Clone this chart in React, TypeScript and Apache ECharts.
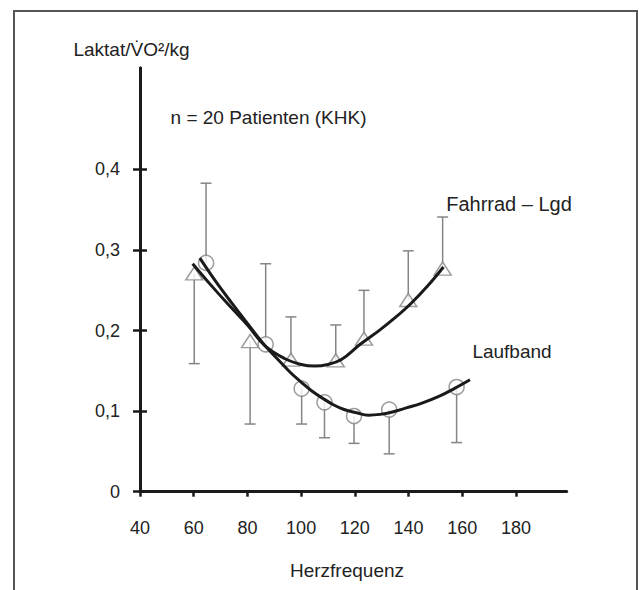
import React, { useEffect, useRef } from "react";
import * as echarts from "echarts";

// Tick values
const xTicks = [40, 60, 80, 100, 120, 140, 160, 180];
const yTicks = [0, 0.1, 0.2, 0.3, 0.4];

// Fahrrad – Lgd (triangles): x, mean, error-bar end
const fahrradX = [60.2, 81.0, 96.2, 112.9, 123.4, 139.9, 152.7];
const fahrradY = [0.271, 0.187, 0.164, 0.163, 0.190, 0.238, 0.277];
const fahrradErr = [0.159, 0.084, 0.217, 0.207, 0.250, 0.299, 0.341];

// Laufband (circles): x, mean, error-bar end
const laufbandX = [64.6, 86.8, 100.2, 108.7, 119.7, 132.8, 157.9];
const laufbandY = [0.284, 0.183, 0.128, 0.111, 0.094, 0.102, 0.130];
const laufbandErr = [0.383, 0.283, 0.084, 0.067, 0.060, 0.047, 0.061];

// Fitted curves
const fahrradCurveX = [59.6, 66, 73, 80, 86.6, 94, 100, 105, 110, 115, 122, 129, 135, 141, 147, 153];
const fahrradCurveY = [0.283, 0.258, 0.232, 0.207, 0.181, 0.165, 0.158, 0.156, 0.158, 0.164, 0.183, 0.200, 0.216, 0.234, 0.255, 0.279];
const laufbandCurveX = [62.3, 68, 74, 80, 86.6, 92, 96, 100, 104, 108, 112, 116, 120.7, 125, 129.4, 134, 139.2, 145, 151.7, 157, 162.9];
const laufbandCurveY = [0.290, 0.262, 0.235, 0.209, 0.181, 0.162, 0.148, 0.136, 0.125, 0.116, 0.108, 0.102, 0.098, 0.095, 0.096, 0.099, 0.104, 0.110, 0.119, 0.128, 0.139];

const FONT = "'Liberation Sans', Arial, sans-serif";
const TEXT = "#222222";
const GRAY = "#858585";
const AXIS = "#1a1a1a";

function zip(a: number[], b: number[], c?: number[]) {
  return a.map((v, i) => (c ? [v, b[i], c[i]] : [v, b[i]]));
}

export default function App() {
  const ref = useRef<HTMLDivElement>(null);
  useEffect(() => {
    if (!ref.current) return;
    const chart = echarts.init(ref.current, null, { renderer: "svg" });

    const errRender = (params: any, api: any) => {
      const x = api.value(0);
      const y = api.value(1);
      const e = api.value(2);
      const p1 = api.coord([x, y]);
      const p2 = api.coord([x, e]);
      const style = { stroke: GRAY, lineWidth: 1.5 };
      return {
        type: "group",
        children: [
          { type: "line", shape: { x1: p1[0], y1: p1[1], x2: p2[0], y2: p2[1] }, style },
          { type: "line", shape: { x1: p2[0] - 5.5, y1: p2[1], x2: p2[0] + 5.5, y2: p2[1] }, style },
        ],
      };
    };

    const yFmt = (v: number) => (v === 0 ? "0" : v.toFixed(1).replace(".", ","));

    chart.setOption({
      animation: false,
      backgroundColor: "#ffffff",
      grid: { left: 140, top: 68, width: 426.7, height: 423.7 },
      xAxis: {
        type: "value",
        min: 40,
        max: 198.9,
        axisLine: { show: true, lineStyle: { color: AXIS, width: 3 } },
        axisTick: { show: true, customValues: xTicks, length: 5, lineStyle: { color: AXIS, width: 2.5 } },
        axisLabel: {
          customValues: xTicks,
          margin: 27,
          fontSize: 18,
          fontFamily: FONT,
          color: TEXT,
        },
        splitLine: { show: false },
      },
      yAxis: [
        {
          type: "value",
          min: 0,
          max: 0.526,
          axisLine: { show: true, lineStyle: { color: AXIS, width: 3 } },
          axisTick: { show: true, customValues: yTicks, length: 7, lineStyle: { color: AXIS, width: 2.5 } },
          axisLabel: {
            customValues: yTicks,
            margin: 20,
            fontSize: 18,
            fontFamily: FONT,
            color: TEXT,
            formatter: yFmt,
          },
          splitLine: { show: false },
        },
        {
          type: "value",
          min: 0,
          max: 0.526,
          position: "left",
          axisLine: { show: true, lineStyle: { color: AXIS, width: 3 } },
          axisTick: { show: true, inside: true, customValues: yTicks, length: 7, lineStyle: { color: AXIS, width: 2.5 } },
          axisLabel: { show: false },
          splitLine: { show: false },
        },
      ],
      series: [
        {
          type: "custom",
          renderItem: errRender,
          data: zip(fahrradX, fahrradY, fahrradErr),
          encode: { x: 0, y: 1 },
          z: 1,
        },
        {
          type: "custom",
          renderItem: errRender,
          data: zip(laufbandX, laufbandY, laufbandErr),
          encode: { x: 0, y: 1 },
          z: 1,
        },
        {
          type: "scatter",
          symbol: "triangle",
          symbolSize: [17, 13],
          data: zip(fahrradX, fahrradY),
          itemStyle: { color: "#ffffff", borderColor: GRAY, borderWidth: 1.5 },
          z: 2,
        },
        {
          type: "scatter",
          symbol: "circle",
          symbolSize: 15,
          data: zip(laufbandX, laufbandY),
          itemStyle: { color: "#ffffff", borderColor: GRAY, borderWidth: 1.5 },
          z: 2,
        },
        {
          type: "line",
          data: zip(fahrradCurveX, fahrradCurveY),
          smooth: 0.4,
          showSymbol: false,
          lineStyle: { color: AXIS, width: 3 },
          z: 3,
        },
        {
          type: "line",
          data: zip(laufbandCurveX, laufbandCurveY),
          smooth: 0.4,
          showSymbol: false,
          lineStyle: { color: AXIS, width: 3 },
          z: 3,
        },
      ],
      graphic: [
        {
          type: "rect",
          shape: { x: 14, y: 11, width: 623, height: 620 },
          style: { fill: "none", stroke: "#555555", lineWidth: 2 },
          silent: true,
        },
        {
          type: "text",
          x: 131.5,
          y: 49,
          style: { text: "Laktat/V\u0307O\u00B2/kg", font: `19px ${FONT}`, fill: TEXT, textAlign: "center", textVerticalAlign: "middle" },
        },
        {
          type: "text",
          x: 268.5,
          y: 117,
          style: { text: "n = 20 Patienten (KHK)", font: `19px ${FONT}`, fill: TEXT, textAlign: "center", textVerticalAlign: "middle" },
        },
        {
          type: "text",
          x: 509,
          y: 204,
          style: { text: "Fahrrad \u2013 Lgd", font: `20px ${FONT}`, fill: TEXT, textAlign: "center", textVerticalAlign: "middle" },
        },
        {
          type: "text",
          x: 512,
          y: 351,
          style: { text: "Laufband", font: `19px ${FONT}`, fill: TEXT, textAlign: "center", textVerticalAlign: "middle" },
        },
        {
          type: "text",
          x: 347,
          y: 570,
          style: { text: "Herzfrequenz", font: `19px ${FONT}`, fill: TEXT, textAlign: "center", textVerticalAlign: "middle" },
        },
      ],
    });

    return () => chart.dispose();
  }, []);

  return (
    <div
      ref={ref}
      style={{ position: "absolute", left: 0, top: 0, width: 639, height: 590 }}
    />
  );
}
